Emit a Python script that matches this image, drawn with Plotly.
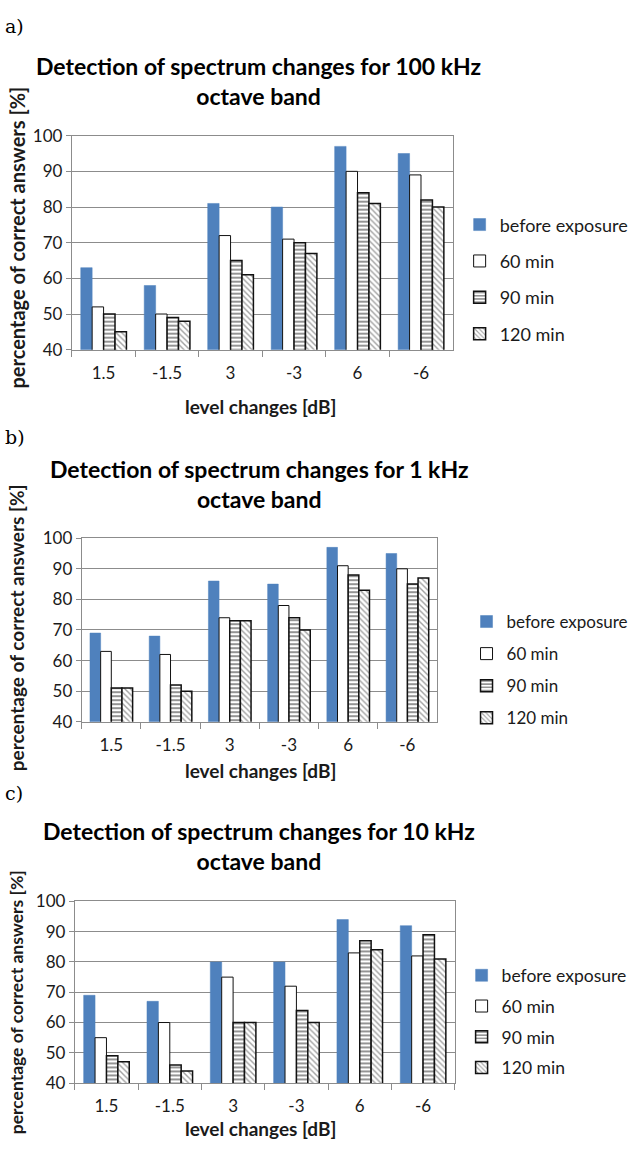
import plotly.graph_objects as go

categories = ["1.5", "-1.5", "3", "-3", "6", "-6"]
series_names = ["before exposure", "60 min", "90 min", "120 min"]

a_before = [63, 58, 81, 80, 97, 95]
a_60 = [52, 50, 72, 71, 90, 89]
a_90 = [50, 49, 65, 70, 84, 82]
a_120 = [45, 48, 61, 67, 81, 80]

b_before = [69, 68, 86, 85, 97, 95]
b_60 = [63, 62, 74, 78, 91, 90]
b_90 = [51, 52, 73, 74, 88, 85]
b_120 = [51, 50, 73, 70, 83, 87]

c_before = [69, 67, 80, 80, 94, 92]
c_60 = [55, 60, 75, 72, 83, 82]
c_90 = [49, 46, 60, 64, 87, 89]
c_120 = [47, 44, 60, 60, 84, 81]

titles = [
    "Detection of spectrum changes for 100 kHz<br>octave band",
    "Detection of spectrum changes for 1 kHz<br>octave band",
    "Detection of spectrum changes for 10 kHz<br>octave band",
]
panel_labels = ["a)", "b)", "c)"]
y_title = "percentage of correct answers [%]"
x_title = "level changes [dB]"
y_ticks = [40, 50, 60, 70, 80, 90, 100]

W, H = 634, 1150
FONT = "Lato"
TXT = "#1a1a1a"
GRID = "#8c8c8c"


def fx(p):
    return p / W


def fy(p):
    return 1 - p / H


# layout geometry per panel (pixels)
panels = [
    dict(data=[a_before, a_60, a_90, a_120], x0=73, x1=460, yt=127, yb=345,
         t1=71, lab=15, xt=403, yt_c=231, yt_fs=20,
         leg_x=467, leg_y=199, leg_fs=18, gap=10),
    dict(data=[b_before, b_60, b_90, b_120], x0=83, x1=444, yt=537, yb=724,
         t1=482, lab=434, xt=774, yt_c=628, yt_fs=19,
         leg_x=474, leg_y=604, leg_fs=17, gap=7),
    dict(data=[c_before, c_60, c_90, c_120], x0=76, x1=462, yt=907, yb=1092,
         t1=851, lab=797, xt=1138, yt_c=1010, yt_fs=17.5,
         leg_x=469, leg_y=964, leg_fs=17.5, gap=5),
]

styles = [
    dict(color="#4F81BD", line=dict(color="#4F81BD", width=0.5)),
    dict(color="white", line=dict(color="#111111", width=1)),
    dict(color="white", line=dict(color="#111111", width=1.5),
         pattern=dict(shape="-", fgcolor="#111111", bgcolor="white", size=4, solidity=0.45)),
    dict(color="white", line=dict(color="#111111", width=1.5),
         pattern=dict(shape="\\", fgcolor="#444444", bgcolor="white", size=4, solidity=0.35)),
]

fig = go.Figure()
annotations = []
layout_extra = {}

for i, p in enumerate(panels):
    sfx = "" if i == 0 else str(i + 1)
    xa = "x" + sfx
    ya = "y" + sfx
    leg = "legend" + sfx
    for k, (name, vals) in enumerate(zip(series_names, p["data"])):
        fig.add_trace(go.Bar(
            x=categories, y=vals, name=name, marker=styles[k],
            xaxis=xa, yaxis=ya, legend=leg, legendgroup=f"{i}-{k}",
            hoverinfo="x+y+name",
        ))
    layout_extra["xaxis" + sfx] = dict(
        domain=[fx(p["x0"]), fx(p["x1"])], anchor=ya,
        type="category", showline=True, linecolor=GRID, linewidth=1, mirror=True,
        ticks="outside", tickson="boundaries", ticklen=6, tickcolor=GRID,
        ticklabelstandoff=8,
        tickfont=dict(family=FONT, size=17, color=TXT), showgrid=False,
    )
    layout_extra["yaxis" + sfx] = dict(
        domain=[fy(p["yb"]), fy(p["yt"])], anchor=xa,
        range=[40, 100], tickvals=y_ticks, showgrid=True, gridcolor=GRID, gridwidth=1,
        showline=True, linecolor=GRID, linewidth=1, mirror=True,
        ticks="outside", ticklen=5, tickcolor=GRID,
        tickfont=dict(family=FONT, size=17, color=TXT), zeroline=False,
    )
    layout_extra[leg] = dict(
        x=fx(p["leg_x"]), y=fy(p["leg_y"]), xanchor="left", yanchor="top",
        font=dict(family=FONT, size=p["leg_fs"], color=TXT), tracegroupgap=p["gap"],
        bgcolor="rgba(0,0,0,0)", itemwidth=30,
    )
    annotations.append(dict(
        text=titles[i], x=fx(263), y=fy(p["t1"]), xref="paper", yref="paper",
        xanchor="center", yanchor="middle", showarrow=False,
        font=dict(family=FONT, size=23, color="black", weight="bold"),
    ))
    annotations.append(dict(
        text=panel_labels[i], x=fx(3), y=fy(p["lab"]), xref="paper", yref="paper",
        xanchor="left", yanchor="middle", showarrow=False,
        font=dict(family="DejaVu Serif", size=19, color="black"),
    ))
    annotations.append(dict(
        text=x_title, x=fx(265), y=fy(p["xt"]), xref="paper", yref="paper",
        xanchor="center", yanchor="middle", showarrow=False,
        font=dict(family=FONT, size=19, color=TXT, weight="bold"),
    ))
    annotations.append(dict(
        text=y_title, x=fx(17), y=fy(p["yt_c"]), xref="paper", yref="paper",
        xanchor="center", yanchor="middle", showarrow=False, textangle=-90,
        font=dict(family=FONT, size=p["yt_fs"], color=TXT, weight="bold"),
    ))

fig.update_layout(
    width=W, height=H, margin=dict(l=0, r=0, t=0, b=0),
    paper_bgcolor="white", plot_bgcolor="white",
    barmode="group", bargap=0.28, bargroupgap=0,
    annotations=annotations, showlegend=True,
    **layout_extra,
)

fig.write_html(
    "out.html",
    config={"displayModeBar": False},
    post_script="document.body.style.margin='0';document.body.style.overflow='hidden';",
)
